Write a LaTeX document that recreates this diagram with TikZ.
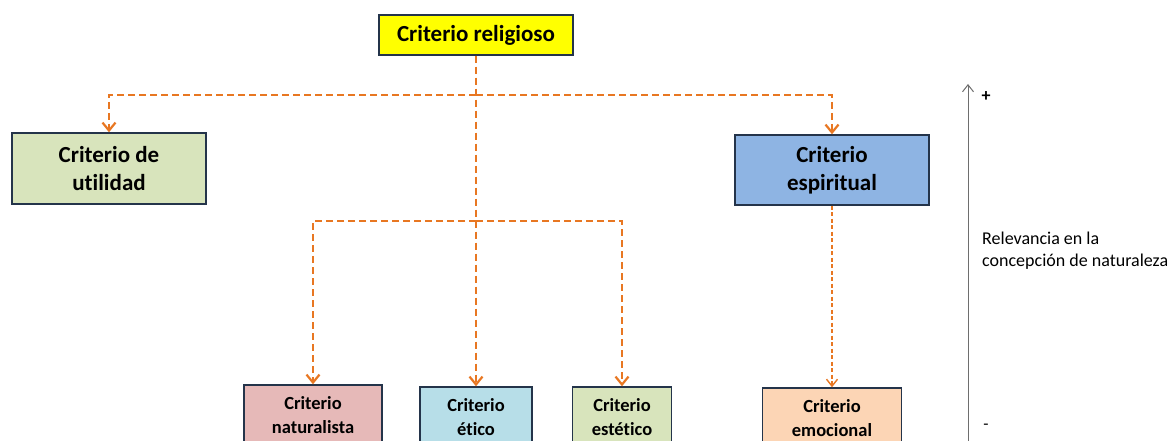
\documentclass[tikz,border=0pt]{standalone}
\usepackage{fontspec}
\setmainfont[Ligatures=NoCommon]{Carlito}
\usetikzlibrary{arrows.meta}
\definecolor{linkorange}{RGB}{232,119,34}
\definecolor{boxline}{RGB}{36,52,74}
\definecolor{cyellow}{RGB}{255,255,0}
\definecolor{cgreen}{RGB}{216,228,188}
\definecolor{cblue}{RGB}{142,180,227}
\definecolor{cpink}{RGB}{230,185,184}
\definecolor{ccyan}{RGB}{183,222,232}
\definecolor{cpeach}{RGB}{252,213,181}
\definecolor{axisgray}{RGB}{110,110,110}
\tikzset{
  crit/.style={draw=boxline, line width=1.4pt, align=center, inner sep=0pt,
    font=\bfseries\fontsize{23}{28}\selectfont},
  critsmall/.style={crit, font=\bfseries\fontsize{18.5}{24}\selectfont, minimum height=60pt},
  link/.style={draw=linkorange, line width=2.8pt, dash pattern=on 7pt off 4pt,
    -{Straight Barb[length=8pt,width=13pt,line width=2.2pt]}},
  linkthin/.style={draw=linkorange, line width=1.4pt, dash pattern=on 4pt off 2.5pt,
    -{Straight Barb[length=7pt,width=11pt,line width=1.4pt]}},
}
\begin{document}
\begin{tikzpicture}[x=1pt,y=-1pt]
\useasboundingbox (0,0) rectangle (1174,441);
\clip (0,0) rectangle (1174,441);

% upper level
\node[crit, fill=cyellow, minimum width=194pt, minimum height=40pt] (rel) at (476,35) {Criterio religioso};
\node[crit, fill=cgreen, minimum width=194pt, minimum height=71pt] (util) at (109,168.5) {Criterio de\\utilidad};
\node[crit, fill=cblue, minimum width=194pt, minimum height=70pt] (espi) at (832,170) {Criterio\\espiritual};

% lower level
\node[critsmall, fill=cpink, minimum width=138pt] (nat) at (313,415) {Criterio\\naturalista};
\node[critsmall, fill=ccyan, minimum width=112pt] (etico) at (476,417) {Criterio\\ético};
\node[critsmall, fill=cgreen, minimum width=99pt] (estet) at (622,417) {Criterio\\estético};
\node[critsmall, fill=cpeach, minimum width=139pt] (emo) at (832,418) {Criterio\\emocional};

% junctions of the dashed buses
\coordinate (bus1) at (476,95);
\coordinate (bus2) at (476,221);

\draw[link] (rel.south) -- (etico.north);
\draw[link] (bus1) -| (util.north);
\draw[link] (bus1) -| (espi.north);
\draw[link] (bus2) -| (nat.north);
\draw[link] (bus2) -| (estet.north);
\draw[linkthin] (espi.south) -- (emo.north);

% relevance axis
\coordinate (axlow) at (968,445);
\coordinate (axhigh) at (968,84);
\draw[axisgray, line width=1pt, -{Straight Barb[length=7pt,width=11pt,line width=1pt]}] (axlow) -- (axhigh);
\node[font=\bfseries\fontsize{18}{18}\selectfont, inner sep=0pt] (plus) at (986,97) {+};
\node[font=\fontsize{17}{17}\selectfont, inner sep=0pt] (minus) at (986,427) {-};
\node[anchor=west, align=left, inner sep=0pt, font=\fontsize{18}{22}\selectfont] (rel-label) at (982,251)
  {Relevancia en la\\concepción de naturaleza};
\end{tikzpicture}
\end{document}
